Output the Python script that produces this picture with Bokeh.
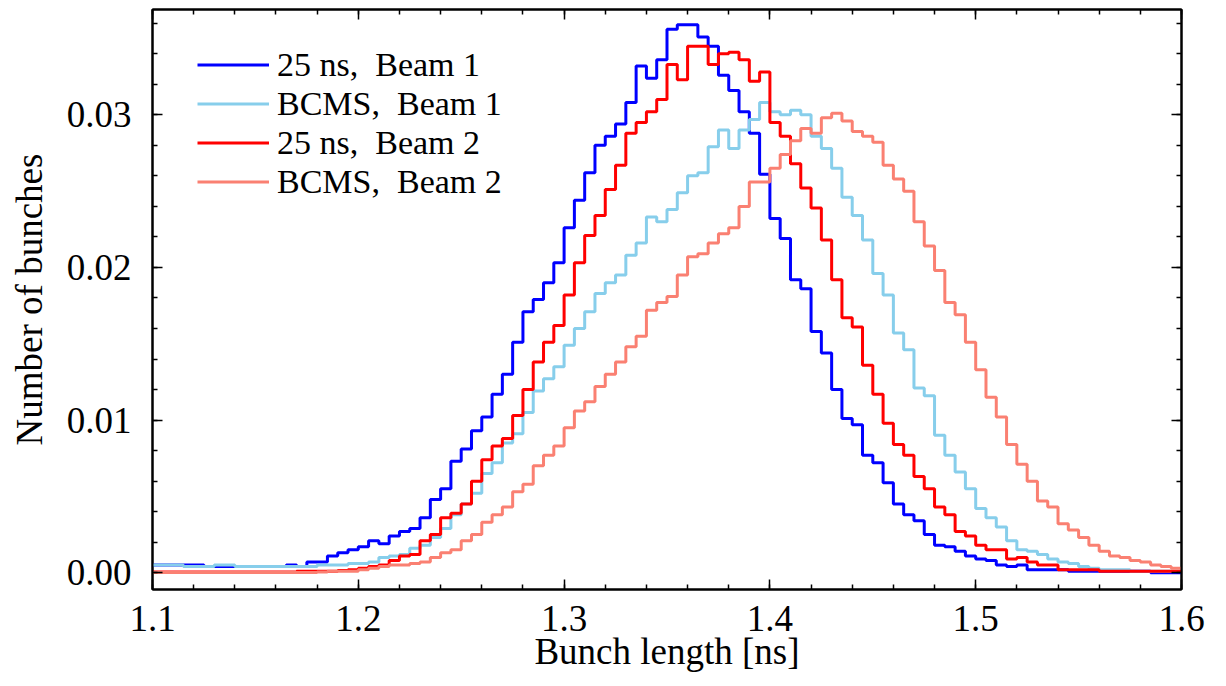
from bokeh.plotting import figure
from bokeh.models import (LinearAxis, SingleIntervalTicker, PrintfTickFormatter,
                          CustomJSTickFormatter, Legend, LegendItem, Range1d)
from bokeh.embed import file_html
from bokeh.resources import INLINE

# ---------------- data (normalised histograms, bin width 0.005 ns) ----------------
bin_start = 1.1
bin_width = 0.005

beam1_25ns = [
    0.0005, 0.0005, 0.0005, 0.0005, 0.0005, 0.0004, 0.0004, 0.0004, 0.0004, 0.0004,
    0.0004, 0.0004, 0.0004, 0.0005, 0.0004, 0.0007, 0.0007, 0.0011, 0.0013, 0.0015,
    0.0017, 0.0021, 0.0019, 0.0024, 0.0027, 0.0029, 0.0036, 0.0048, 0.0055, 0.0073,
    0.0081, 0.0093, 0.0102, 0.0117, 0.0130, 0.0151, 0.0171, 0.0179, 0.0190, 0.0203,
    0.0226, 0.0244, 0.0262, 0.0280, 0.0286, 0.0294, 0.0308, 0.0332, 0.0324, 0.0336,
    0.0356, 0.0359, 0.0359, 0.0351, 0.0345, 0.0326, 0.0316, 0.0302, 0.0288, 0.0261,
    0.0232, 0.0219, 0.0192, 0.0186, 0.0158, 0.0144, 0.0120, 0.0101, 0.0097, 0.0077,
    0.0072, 0.0059, 0.0045, 0.0038, 0.0034, 0.0025, 0.0018, 0.0017, 0.0014, 0.0011,
    0.0009, 0.0008, 0.0005, 0.0004, 0.0005, 0.0002, 0.0002, 0.0002, 0.0002, 0.0001,
    0.0001, 0.0001, 0.0001, 0.0001, 0.0001, 0.0001, 0.0001, 0.0000, 0.0000, 0.0000,
]

beam1_bcms = [
    0.0005, 0.0005, 0.0005, 0.0004, 0.0004, 0.0004, 0.0005, 0.0005, 0.0004, 0.0004,
    0.0004, 0.0004, 0.0004, 0.0004, 0.0004, 0.0004, 0.0005, 0.0005, 0.0005, 0.0006,
    0.0006, 0.0007, 0.0010, 0.0011, 0.0012, 0.0016, 0.0018, 0.0023, 0.0029, 0.0038,
    0.0045, 0.0052, 0.0065, 0.0072, 0.0085, 0.0091, 0.0105, 0.0119, 0.0127, 0.0135,
    0.0149, 0.0160, 0.0171, 0.0183, 0.0190, 0.0195, 0.0208, 0.0216, 0.0233, 0.0230,
    0.0238, 0.0249, 0.0260, 0.0262, 0.0279, 0.0290, 0.0278, 0.0290, 0.0297, 0.0308,
    0.0302, 0.0300, 0.0303, 0.0300, 0.0286, 0.0278, 0.0265, 0.0246, 0.0234, 0.0218,
    0.0196, 0.0182, 0.0157, 0.0146, 0.0121, 0.0116, 0.0090, 0.0077, 0.0066, 0.0055,
    0.0042, 0.0036, 0.0030, 0.0021, 0.0015, 0.0014, 0.0012, 0.0009, 0.0007, 0.0006,
    0.0004, 0.0003, 0.0002, 0.0002, 0.0002, 0.0001, 0.0001, 0.0001, 0.0001, 0.0001,
]

beam2_25ns = [
    0.00005, 0.00005, 0.00005, 0.00005, 0.00005, 0.00005, 0.00005, 0.00005, 0.00005, 0.00005,
    0.00005, 0.00005, 0.00005, 0.00005, 0.0001, 0.0001, 0.0001, 0.0001, 0.00015, 0.0002,
    0.0003, 0.0004, 0.0005, 0.0008, 0.0011, 0.0012, 0.0021, 0.0025, 0.0036, 0.0039,
    0.0045, 0.0060, 0.0074, 0.0083, 0.0088, 0.0103, 0.0120, 0.0138, 0.0151, 0.0162,
    0.0182, 0.0203, 0.0221, 0.0234, 0.0251, 0.0267, 0.0288, 0.0295, 0.0302, 0.0310,
    0.0333, 0.0323, 0.0345, 0.0345, 0.0333, 0.0340, 0.0341, 0.0336, 0.0322, 0.0328,
    0.0295, 0.0286, 0.0268, 0.0252, 0.0239, 0.0218, 0.0192, 0.0167, 0.0161, 0.0136,
    0.0117, 0.0098, 0.0084, 0.0077, 0.0063, 0.0055, 0.0043, 0.0038, 0.0027, 0.0024,
    0.0018, 0.0015, 0.0015, 0.0009, 0.0010, 0.0007, 0.0005, 0.0005, 0.0002, 0.0002,
    0.0002, 0.0002, 0.0001, 0.0001, 0.0001, 0.0001, 0.0001, 0.0001, 0.0001, 0.0001,
]

beam2_bcms = [
    0.00002, 0.00002, 0.00002, 0.00002, 0.00002, 0.00002, 0.00002, 0.00002, 0.00002, 0.00002,
    0.00002, 0.00002, 0.00002, 0.00002, 0.00002, 0.00002, 0.00005, 0.0001, 0.0001, 0.0001,
    0.0002, 0.0003, 0.0004, 0.0005, 0.0005, 0.0006, 0.0007, 0.0010, 0.0013, 0.0015,
    0.0021, 0.0025, 0.0033, 0.0038, 0.0043, 0.0053, 0.0058, 0.0070, 0.0077, 0.0083,
    0.0095, 0.0106, 0.0112, 0.0122, 0.0130, 0.0138, 0.0148, 0.0155, 0.0172, 0.0177,
    0.0181, 0.0195, 0.0207, 0.0209, 0.0216, 0.0222, 0.0226, 0.0240, 0.0256, 0.0256,
    0.0265, 0.0274, 0.0283, 0.0291, 0.0288, 0.0298, 0.0301, 0.0296, 0.0289, 0.0286,
    0.0282, 0.0267, 0.0258, 0.0250, 0.0230, 0.0214, 0.0198, 0.0177, 0.0169, 0.0151,
    0.0133, 0.0115, 0.0102, 0.0084, 0.0071, 0.0060, 0.0047, 0.0043, 0.0032, 0.0028,
    0.0023, 0.0018, 0.0014, 0.0011, 0.0010, 0.0008, 0.0007, 0.0005, 0.0004, 0.0003,
]

series_labels = ["25 ns,\u2002Beam 1", "BCMS,\u2002Beam 1", "25 ns,\u2002Beam 2", "BCMS,\u2002Beam 2"]
series_colors = ["#0000ff", "#87ceeb", "#ff0000", "#fa8072"]
series_values = [beam1_25ns, beam1_bcms, beam2_25ns, beam2_bcms]

x_label = "Bunch length [ns]"
y_label = "Number of bunches"

FONT = "Liberation Serif"
TICK_SIZE = "37px"

# ---------------- figure ----------------
p = figure(width=1226, height=686, output_backend="svg", toolbar_location=None,
           x_range=Range1d(1.1, 1.6), y_range=Range1d(-0.0011, 0.0369),
           min_border_left=152, min_border_right=45, min_border_top=9,
           min_border_bottom=97)
p.grid.visible = False
p.outline_line_color = "black"
p.outline_line_width = 2
p.background_fill_color = "white"
p.border_fill_color = "white"

renderers = []
for vals, col in zip(series_values, series_colors):
    n = len(vals)
    xs = [bin_start + bin_width * i for i in range(n + 1)]
    ys = list(vals) + [vals[-1]]
    r = p.step(x=xs, y=ys, mode="after", line_color=col, line_width=3)
    renderers.append(r)


def style_axis(ax, show_labels):
    ax.axis_line_color = "black"
    ax.axis_line_width = 2
    ax.major_tick_in = 10
    ax.major_tick_out = 0
    ax.minor_tick_in = 5
    ax.minor_tick_out = 0
    ax.major_tick_line_color = "black"
    ax.minor_tick_line_color = "black"
    ax.major_tick_line_width = 1.5
    ax.minor_tick_line_width = 1.5
    ax.major_label_text_font = FONT
    ax.major_label_text_color = "black"
    ax.major_label_text_font_size = TICK_SIZE
    ax.axis_label_text_font = FONT
    ax.axis_label_text_font_style = "normal"
    ax.axis_label_text_color = "black"
    ax.axis_label_text_font_size = TICK_SIZE
    if not show_labels:
        ax.formatter = CustomJSTickFormatter(code="return ''")
        ax.major_label_standoff = 0


xticker = SingleIntervalTicker(interval=0.1, num_minor_ticks=5)
yticker = SingleIntervalTicker(interval=0.01, num_minor_ticks=5)

xa = p.xaxis[0]
xa.ticker = xticker
xa.formatter = PrintfTickFormatter(format="%.1f")
style_axis(xa, True)
xa.axis_label = x_label
xa.major_label_standoff = 16
xa.axis_label_standoff = -3

ya = p.yaxis[0]
ya.ticker = yticker
ya.formatter = PrintfTickFormatter(format="%.2f")
style_axis(ya, True)
ya.axis_label = y_label
ya.major_label_standoff = 21
ya.axis_label_standoff = 14

top = LinearAxis(ticker=SingleIntervalTicker(interval=0.1, num_minor_ticks=5))
style_axis(top, False)
p.add_layout(top, "above")
right = LinearAxis(ticker=SingleIntervalTicker(interval=0.01, num_minor_ticks=5))
style_axis(right, False)
p.add_layout(right, "right")

legend = Legend(
    items=[LegendItem(label=lab, renderers=[r]) for lab, r in zip(series_labels, renderers)],
    location=(45, 388),
    padding=0, margin=0, spacing=0,
    glyph_width=72, glyph_height=39, label_height=39, label_standoff=8,
    label_text_font=FONT, label_text_font_size="34px", label_text_color="black",
    border_line_color=None, background_fill_alpha=0,
)
p.add_layout(legend)

open("out.html", "w").write(file_html(p, INLINE))
